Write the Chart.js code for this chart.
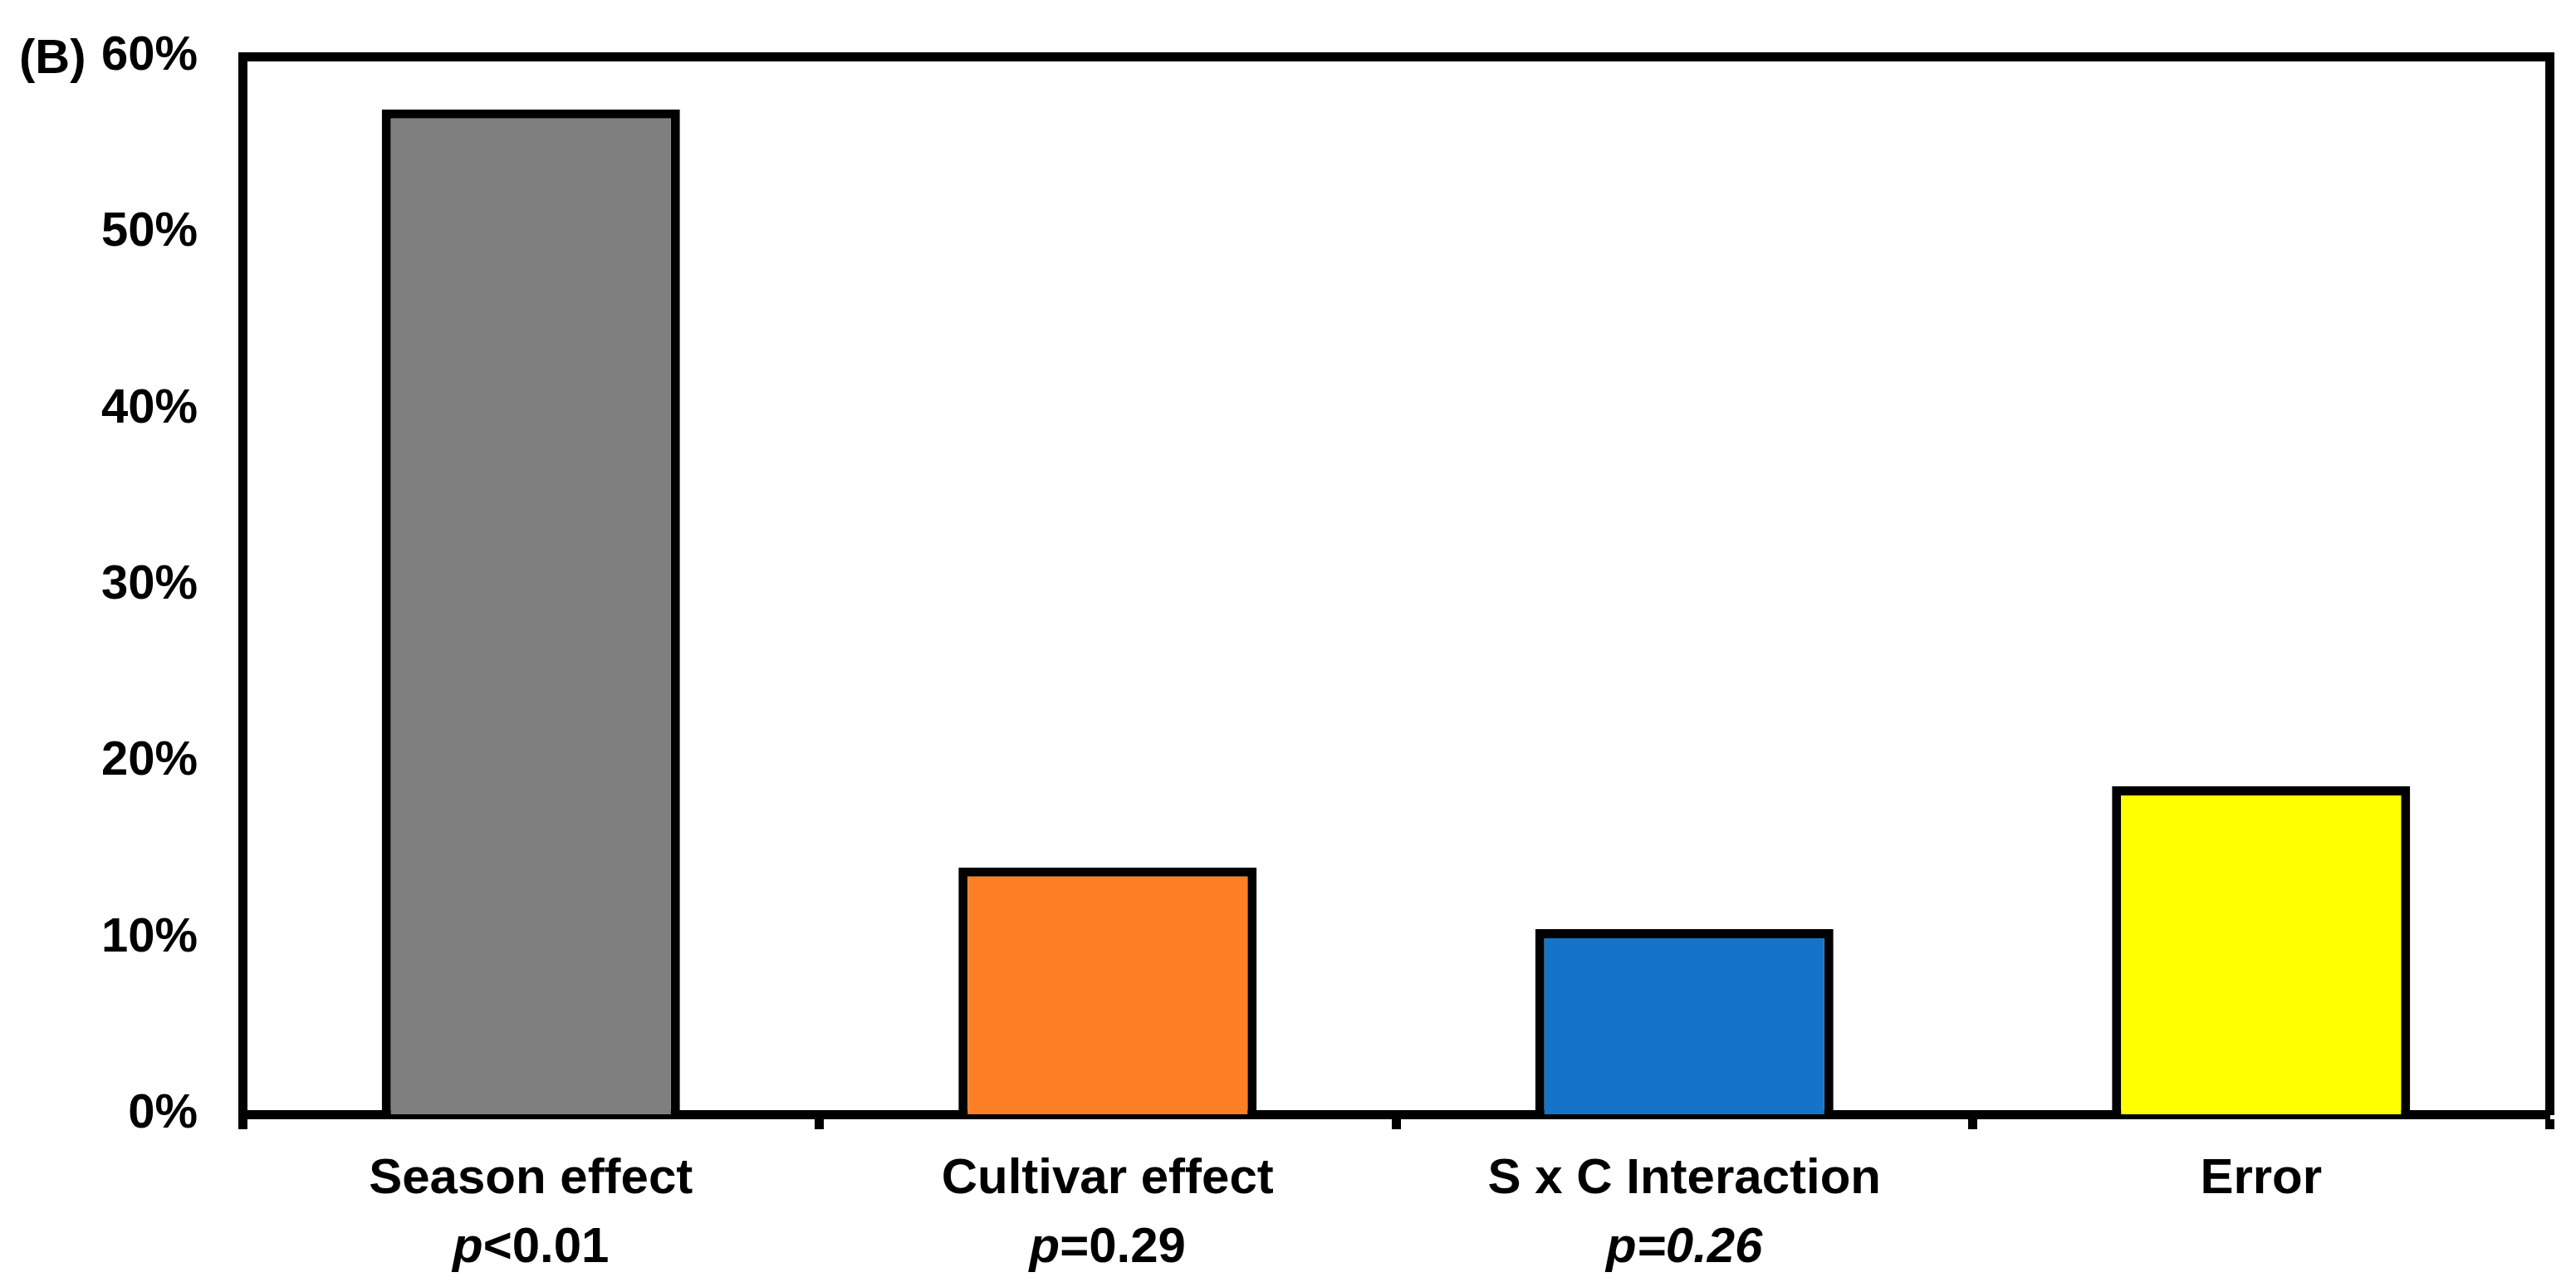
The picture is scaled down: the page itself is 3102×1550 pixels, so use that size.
<!DOCTYPE html>
<html lang="en">

<head>
    <meta charset="UTF-8">
    <script src="https://cdn.jsdelivr.net/npm/chart.js"></script>
    <title>Variance components</title>
    <style>
        body { margin: 0; background: #fff; }
    </style>
</head>

<body>
    <canvas id="effects" width="3102" height="1550"></canvas>

    <script>
        // data
        var categories = ['Season effect', 'Cultivar effect', 'S x C Interaction', 'Error'];
        var shares = [57.0, 14.0, 10.5, 18.6];
        var pLabels = ['p<0.01', 'p=0.29', 'p=0.26', ''];
        var yTicks = [0, 10, 20, 30, 40, 50, 60];
        var panelLabel = '(B)';

        var barColors = ['#7f7f7f', '#fd7f25', '#1673ca', '#ffff00'];
        var tailItalic = [false, false, true, false]; // p=0.26 is italic all through
        var FONT = '"Liberation Sans", Arial, sans-serif';

        // second line under each category, "p" always italic
        var pValuePlugin = {
            id: 'pValues',
            afterDraw: function (chart) {
                var ctx = chart.ctx;
                var x = chart.scales.x;
                ctx.save();
                ctx.fillStyle = '#000';
                ctx.textBaseline = 'alphabetic';
                ctx.textAlign = 'left';
                pLabels.forEach(function (lbl, i) {
                    if (!lbl) return;
                    var head = lbl.charAt(0);
                    var tail = lbl.slice(1);
                    var fHead = 'italic bold 60px ' + FONT;
                    var fTail = (tailItalic[i] ? 'italic ' : '') + 'bold 60px ' + FONT;
                    ctx.font = fHead;
                    var w1 = ctx.measureText(head).width;
                    ctx.font = fTail;
                    var w2 = ctx.measureText(tail).width;
                    var cx = x.getPixelForValue(i);
                    var left = cx - (w1 + w2) / 2;
                    var base = x.top + 178;
                    ctx.font = fHead;
                    ctx.fillText(head, left, base);
                    ctx.font = fTail;
                    ctx.fillText(tail, left + w1, base);
                });
                // panel letter, on the line of the top tick label
                ctx.font = 'bold 58px ' + FONT;
                ctx.fillText(panelLabel, 23, chart.chartArea.top + 20);
                ctx.restore();
            }
        };

        var context = document.getElementById('effects').getContext('2d');

        var effectsChart = new Chart(context, {
            type: 'bar',
            data: {
                labels: categories,
                datasets: [{
                    data: shares,
                    backgroundColor: barColors,
                    borderColor: '#000',
                    borderWidth: 11,
                    barPercentage: 0.517,
                    categoryPercentage: 1.0
                }]
            },
            options: {
                responsive: false,
                devicePixelRatio: 1,
                animation: false,
                layout: { padding: { left: 0, right: 32, top: 68, bottom: 0 } },
                plugins: {
                    legend: { display: false },
                    tooltip: { enabled: false }
                },
                scales: {
                    x: {
                        type: 'category',
                        position: 'bottom',
                        z: 1,
                        grid: {
                            offset: true,
                            drawOnChartArea: false,
                            drawTicks: true,
                            tickLength: 18,
                            tickWidth: 11,
                            color: '#000'
                        },
                        border: { display: true, width: 11, color: '#000' },
                        ticks: {
                            color: '#000',
                            padding: 24,
                            font: { family: FONT, size: 60, weight: 'bold' }
                        },
                        afterFit: function (s) { s.height = 208; }
                    },
                    xTop: {
                        type: 'category',
                        position: 'top',
                        z: 1,
                        grid: { display: false, drawTicks: false },
                        ticks: { display: false },
                        border: { display: true, width: 11, color: '#000' },
                        afterFit: function (s) { s.height = 0; }
                    },
                    y: {
                        position: 'left',
                        min: 0,
                        max: 60,
                        z: 1,
                        afterBuildTicks: function (s) {
                            s.ticks = yTicks.map(function (v) { return { value: v }; });
                        },
                        grid: { display: false, drawTicks: false },
                        border: { display: true, width: 11, color: '#000' },
                        ticks: {
                            color: '#000',
                            padding: 54,
                            font: { family: FONT, size: 58, weight: 'bold' },
                            callback: function (v) { return v + '%'; }
                        },
                        afterFit: function (s) {
                            s.width = 292;
                            s.paddingTop = 0;
                            s.paddingBottom = 0;
                        }
                    },
                    yRight: {
                        position: 'right',
                        min: 0,
                        max: 60,
                        z: 1,
                        grid: { display: false, drawTicks: false },
                        ticks: { display: false },
                        border: { display: true, width: 11, color: '#000' },
                        afterFit: function (s) {
                            s.width = 0;
                            s.paddingTop = 0;
                            s.paddingBottom = 0;
                        }
                    }
                }
            },
            plugins: [pValuePlugin]
        });
    </script>
</body>

</html>
